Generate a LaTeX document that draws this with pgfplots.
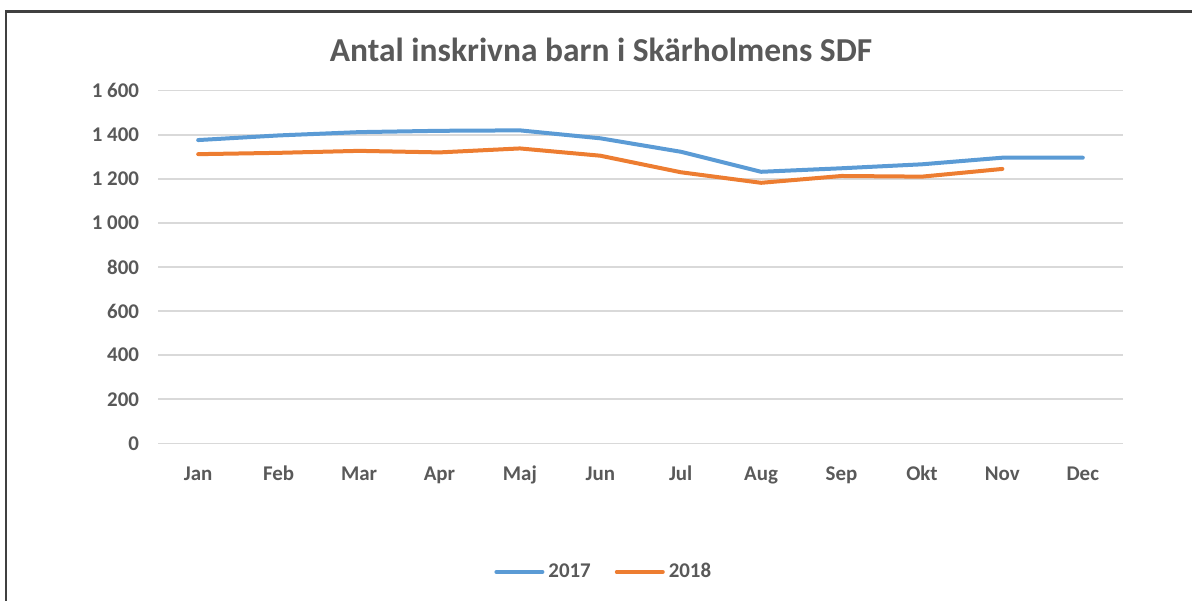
\documentclass[border=0pt]{standalone}
\usepackage{fontspec}
\setmainfont{Carlito}
\usepackage{pgfplots}
\pgfplotsset{compat=1.18}
\definecolor{blue17}{HTML}{5B9BD5}
\definecolor{orange18}{HTML}{ED7D31}
\definecolor{txt}{HTML}{595959}
\definecolor{gridc}{HTML}{D9D9D9}
\definecolor{framec}{HTML}{404040}

\begin{document}
\begin{tikzpicture}
\useasboundingbox (0bp,0bp) rectangle (596bp,300.5bp);
% frame of the screenshot
\draw[framec, line width=1.2bp] (3bp,0bp) -- (3bp,294.8bp) -- (596bp,294.8bp);
\node[txt, font=\fontsize{16.8}{20}\selectfont\bfseries, anchor=base] at (300.5bp,269.6bp)
  {Antal inskrivna barn i Skärholmens SDF};
\begin{axis}[
  at={(79bp,78.85bp)}, anchor=south west,
  scale only axis, width=482.5bp, height=176.3bp,
  xmin=-0.5, xmax=11.5, ymin=0, ymax=1600,
  xtick={0,...,11},
  xticklabels={Jan,Feb,Mar,Apr,Maj,Jun,Jul,Aug,Sep,Okt,Nov,Dec},
  ytick={0,200,...,1600},
  ymajorgrids, grid style={gridc, line width=0.8bp},
  axis line style={draw=none},
  major tick length=0pt,
  /pgf/number format/assume math mode=true,
  /pgf/number format/1000 sep={\ },
  ticklabel style={text=txt, font=\fontsize{10.5}{12}\selectfont\bfseries},
  yticklabel style={xshift=-6bp},
  xticklabel style={yshift=-7.5bp, text height=1.6ex, text depth=0.3ex},
  legend columns=2,
  legend style={draw=none, fill=none, at={(0.463,-0.365)}, anchor=center,
    font=\fontsize{10.5}{12}\selectfont\bfseries, text=txt,
    /tikz/every even column/.append style={column sep=10bp}},
  legend image code/.code={\draw[#1, line cap=round] (0bp,0bp) -- (23bp,0bp);},
]
\addplot[blue17, line width=2bp, line join=round, line cap=round] table {
x y
0 1376
1 1397
2 1412
3 1418
4 1420
5 1384
6 1323
7 1232
8 1248
9 1266
10 1296
11 1296
};
\addlegendentry{2017}
\addplot[orange18, line width=2bp, line join=round, line cap=round] table {
x y
0 1312
1 1318
2 1327
3 1320
4 1338
5 1305
6 1230
7 1182
8 1213
9 1210
10 1245
};
\addlegendentry{2018}
\end{axis}
\end{tikzpicture}
\end{document}
